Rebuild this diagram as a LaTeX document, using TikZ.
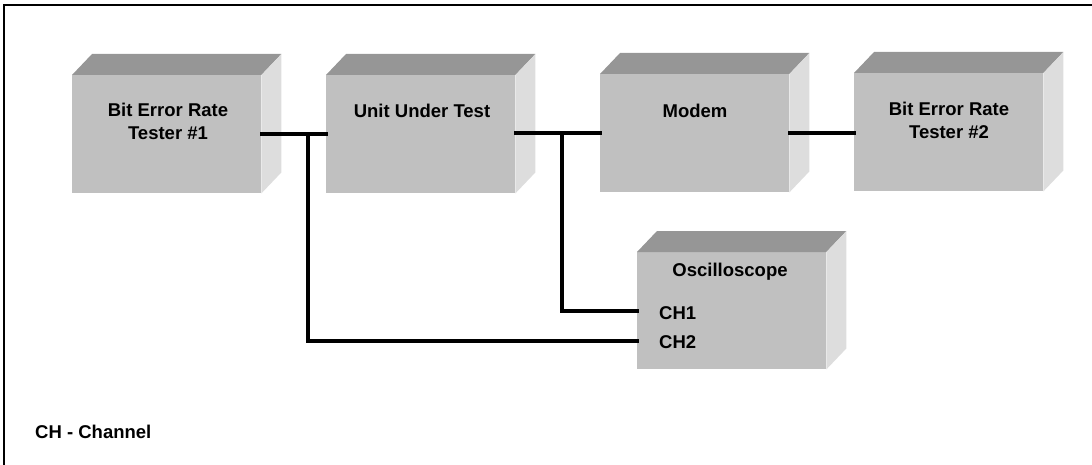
\documentclass[tikz,border=0pt]{standalone}
\usepackage{fontspec}
\setmainfont{Liberation Sans}
\usetikzlibrary{calc}
\definecolor{frontc}{RGB}{192,192,192}
\definecolor{topc}{RGB}{150,150,150}
\definecolor{sidec}{RGB}{221,221,221}
\tikzset{
  blockface/.style={fill=frontc, draw=none, minimum width=189pt, minimum height=118pt, inner sep=0pt, anchor=north west},
  blocktext/.style={font=\bfseries\fontsize{18.5}{23}\selectfont, align=center, inner sep=0pt},
  chtext/.style={font=\bfseries\fontsize{18.5}{23}\selectfont, inner sep=0pt, anchor=west},
  wire/.style={line width=3.2pt, line cap=rect},
  frameline/.style={line width=2pt}
}
% 3D shading of a block: top and right faces beside the front node
\newcommand{\blockfaces}[1]{%
  \fill[topc] (#1.north west) -- ++(20,-21) -- ($(#1.north east)+(20,-21)$) -- (#1.north east) -- cycle;
  \fill[sidec] (#1.north east) -- ++(20,-21) -- ($(#1.south east)+(20,-21)$) -- (#1.south east) -- cycle;
}
\begin{document}
\begin{tikzpicture}[x=1pt,y=-1pt]
\useasboundingbox (0,0) rectangle (1092,465);
% outer frame (top and left edges)
\draw[frameline] (1092,5) -- (4,5) -- (4,465);

% blocks
\node[blockface] (bert1) at (72,75) {};
\node[blockface] (uut) at (326,75) {};
\node[blockface] (modem) at (600,74) {};
\node[blockface] (bert2) at (854,73) {};
\node[blockface, minimum height=117pt] (scope) at (637,252) {};
\blockfaces{bert1}
\blockfaces{uut}
\blockfaces{modem}
\blockfaces{bert2}
\blockfaces{scope}

% labels
\node[blocktext] (bert1t) at (168,121) {Bit Error Rate\\Tester \#1};
\node[blocktext] (uutt) at (422,111) {Unit Under Test};
\node[blocktext] (modemt) at (695,111) {Modem};
\node[blocktext] (bert2t) at (949,120) {Bit Error Rate\\Tester \#2};
\node[blocktext] (scopet) at (730,272) {Oscilloscope};
\node[chtext] (ch1) at (659,313) {CH1};
\node[chtext] (ch2) at (659,342) {CH2};
\node[chtext] (legend) at (35,432) {CH - Channel};

% wiring
\coordinate (t1) at (308,134);
\coordinate (t2) at (562,133);
\draw[wire] (bert1.east |- t1) -- (uut.west |- t1);
\draw[wire] (uut.east |- t2) -- (modem.west |- t2);
\draw[wire] (modem.east |- 0,133) -- (bert2.west |- 0,133);
\draw[wire] (t1) -- (308,341) -- (scope.west |- 0,341);
\draw[wire] (t2) -- (562,311) -- (scope.west |- 0,311);
\end{tikzpicture}
\end{document}
